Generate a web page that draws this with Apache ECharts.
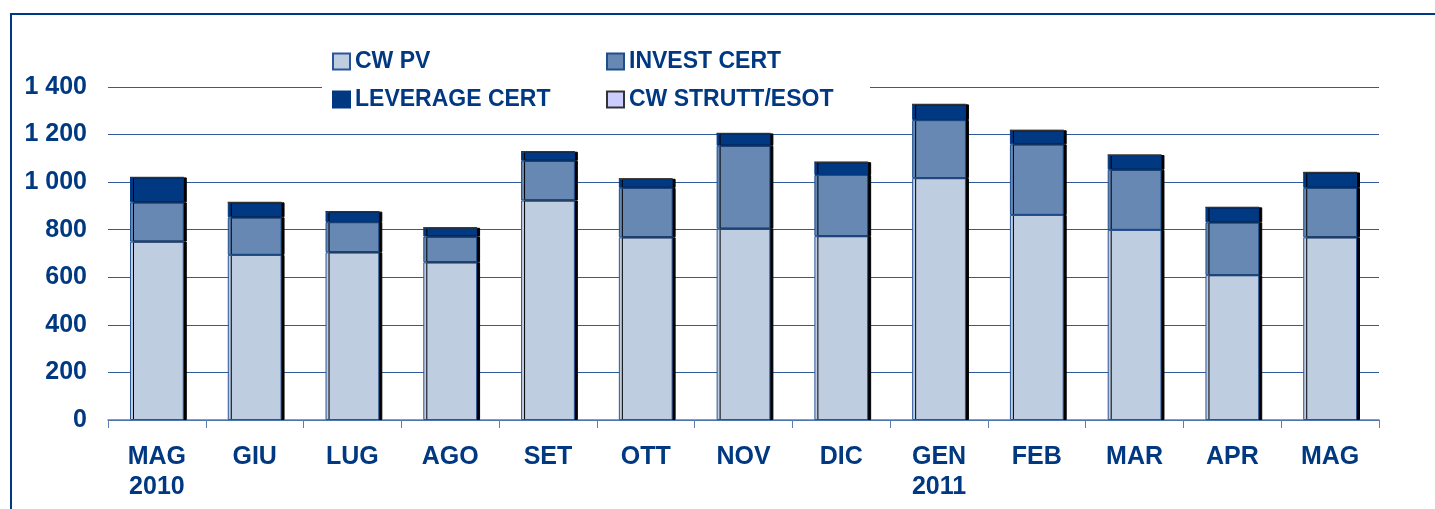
<!DOCTYPE html>
<html>
<head>
<meta charset="utf-8">
<script src="https://cdn.jsdelivr.net/npm/echarts@6/dist/echarts.min.js"></script>
<style>html,body{margin:0;padding:0;background:#fff;}#c{width:1435px;height:509px;}</style>
</head>
<body>
<div id="c"></div>
<script>
const categories = ['MAG\n2010','GIU','LUG','AGO','SET','OTT','NOV','DIC','GEN\n2011','FEB','MAR','APR','MAG'];
const cwPv = [750, 694, 705, 663, 923, 768, 804, 773, 1017, 862, 799, 609, 768];
const investCert = [165, 158, 127, 108, 167, 208, 349, 257, 244, 297, 253, 222, 208];
const leverageCert = [105, 63, 44, 37, 38, 38, 52, 54, 66, 59, 62, 63, 65];
const cwStrutt = [0, 0, 0, 0, 0, 0, 0, 0, 0, 0, 0, 0, 0];
const yTicks = [0, 200, 400, 600, 800, 1000, 1200, 1400];

const navy = '#003882';
const chart = echarts.init(document.getElementById('c'), null, {renderer:'canvas'});
const font = 'Liberation Sans, Arial, sans-serif';
const shadow = {shadowColor:'#000', shadowBlur:0, shadowOffsetX:3, shadowOffsetY:0};

function legendAt(name, left, top){
  return {
    data:[name], left:left, top:top, z:20,
    itemWidth:17, itemHeight:16, itemGap:6,
    icon:'rect',
    textStyle:{color:navy, fontFamily:font, fontWeight:'bold', fontSize:23},
    selectedMode:false, padding:0
  };
}

chart.setOption({
  animation:false,
  backgroundColor:'#fff',
  graphic:[
    {type:'rect', z:1, shape:{x:11, y:14, width:1500, height:600}, style:{fill:'none', stroke:navy, lineWidth:2}},
    {type:'rect', z:15, shape:{x:322, y:40, width:548, height:76}, style:{fill:'#fff'}}
  ],
  legend:[
    legendAt('CW PV', 332, 50),
    legendAt('INVEST CERT', 606, 50),
    legendAt('LEVERAGE CERT', 332, 88),
    legendAt('CW STRUTT/ESOT', 606, 88)
  ],
  grid:{left:108, right:56, top:87, bottom:89},
  xAxis:{
    type:'category', data:categories,
    axisLine:{lineStyle:{color:'#5b7fb3', width:1.5}},
    axisTick:{show:true, length:8, lineStyle:{color:'#5b7fb3'}},
    axisLabel:{color:navy, fontFamily:font, fontWeight:'bold', fontSize:25, lineHeight:30, margin:22, interval:0}
  },
  yAxis:{
    type:'value', min:0, max:1400, interval:200,
    axisLine:{show:false}, axisTick:{show:false},
    splitLine:{lineStyle:{color:'#2f5a9c', width:1.2}},
    axisLabel:{color:navy, fontFamily:font, fontWeight:'bold', fontSize:25, margin:21,
      formatter:function(v){ return yTicks.indexOf(v) >= 0 ? String(v).replace(/\B(?=(\d{3})+(?!\d))/g,' ') : ''; }}
  },
  series:[
    {name:'CW PV', type:'bar', stack:'s', barWidth:'55%', data:cwPv,
      itemStyle:Object.assign({color:'#bfcde0', borderColor:'#2a5599', borderWidth:1}, shadow)},
    {name:'INVEST CERT', type:'bar', stack:'s', data:investCert,
      itemStyle:Object.assign({color:'#6688b3', borderColor:'#1f4e8c', borderWidth:1}, shadow)},
    {name:'LEVERAGE CERT', type:'bar', stack:'s', data:leverageCert,
      itemStyle:Object.assign({color:navy, borderColor:navy, borderWidth:1}, shadow)},
    {name:'CW STRUTT/ESOT', type:'bar', stack:'s', data:cwStrutt,
      itemStyle:{color:'#ccccff', borderColor:'#333', borderWidth:1}}
  ]
});
</script>
</body>
</html>
